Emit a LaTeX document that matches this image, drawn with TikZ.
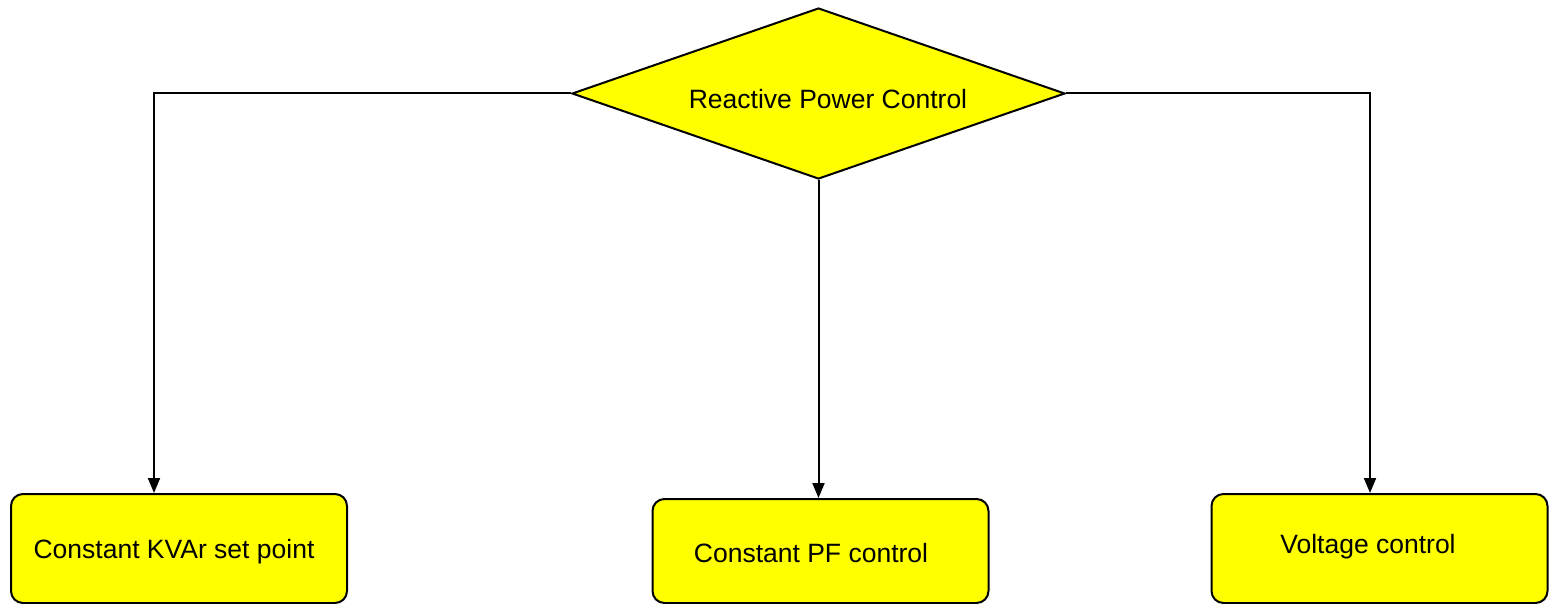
\documentclass[tikz,border=0pt]{standalone}
\usepackage{fontspec}
\setmainfont{Liberation Sans}
\usetikzlibrary{shapes.geometric,arrows.meta}
\definecolor{boxyellow}{RGB}{255,255,0}
\begin{document}
\begin{tikzpicture}[x=1pt,y=-1pt,
  shape yellow/.style={draw=black,line width=2pt,fill=boxyellow},
  boxnode/.style={shape yellow,rectangle,rounded corners=12pt,minimum width=336pt,inner sep=0pt,anchor=north west},
  conn/.style={draw=black,line width=2pt,-{Triangle[width=12pt,length=15pt]}},
  txt/.style={font=\fontsize{26.5}{30}\selectfont,inner sep=0pt}]
\useasboundingbox (0,0) rectangle (1549,604);
\node[shape yellow,diamond,minimum width=493pt,minimum height=171pt,inner sep=0pt] (dec) at (818.5,93.5) {};
\node[txt] (dect) at (828,99) {Reactive Power Control};
\node[boxnode,minimum height=109pt] (b1) at (10,493) {};
\node[boxnode,minimum height=104pt] (b2) at (651.5,498) {};
\node[boxnode,minimum height=109pt] (b3) at (1210.5,493) {};
\node[txt] (t1) at (174,552) {Constant KVAr set point};
\node[txt] (t2) at (811,553) {Constant PF control};
\node[txt] (t3) at (1368,547) {Voltage control};
\draw[conn] (dec.west) -| (b1.north west -| 154,0);
\draw[conn] (dec.south) -- (dec.south |- b2.north);
\draw[conn] (dec.east) -| (b3.north west -| 1370,0);
\end{tikzpicture}
\end{document}
